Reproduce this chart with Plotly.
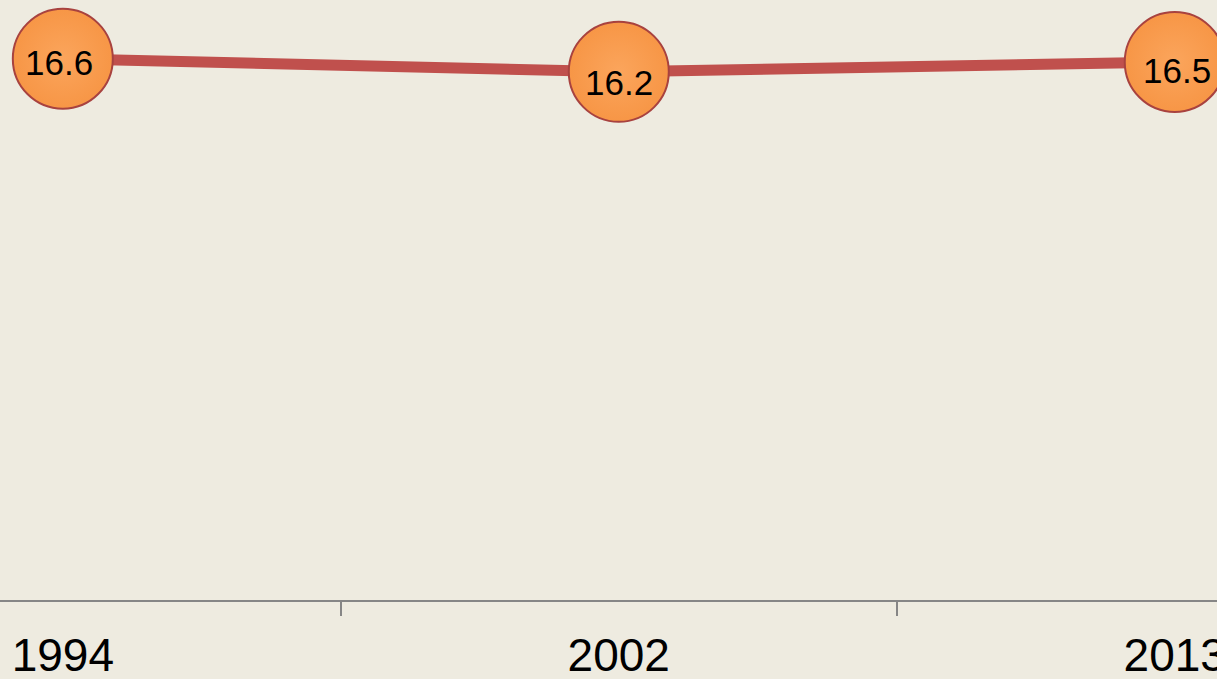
import plotly.graph_objects as go

years = ["1994", "2002", "2013"]
values = [16.6, 16.2, 16.5]
value_labels = ["16.6", "16.2", "16.5"]

# label offsets (pixels) relative to marker centre
label_dx = [-4, 0, 2]
label_dy = [-4, -11, -9]

BG = "#EEEBE0"
FONT = "Liberation Sans, Arial, sans-serif"

fig = go.Figure()
fig.add_trace(go.Scatter(
    x=years, y=values, mode="lines+markers",
    line=dict(color="#C0504D", width=11),
    marker=dict(size=100, color="#F79646",
                gradient=dict(type="radial", color="#FBA55C"),
                line=dict(color="#A8423F", width=2)),
    hoverinfo="skip", showlegend=False, cliponaxis=False,
))

for i, (v, t, dx, dy) in enumerate(zip(values, value_labels, label_dx, label_dy)):
    fig.add_annotation(x=i, y=v, xref="x", yref="y", text=t, showarrow=False,
                       xshift=dx, yshift=dy,
                       font=dict(family=FONT, size=35, color="#000000"))

fig.update_layout(
    width=1217, height=679,
    margin=dict(l=0, r=0, t=0, b=79, autoexpand=False),
    paper_bgcolor=BG, plot_bgcolor=BG,
    xaxis=dict(type="category", range=[-0.113, 2.076], tickson="boundaries",
               showgrid=False, zeroline=False, showline=True,
               linecolor="#868686", linewidth=2,
               ticks="outside", ticklen=14, tickwidth=1.5, tickcolor="#868686",
               ticklabelstandoff=14,
               tickfont=dict(family=FONT, size=46, color="#000000"),
               automargin=False, fixedrange=True),
    yaxis=dict(range=[0, 18.4], visible=False, showgrid=False, zeroline=False,
               fixedrange=True),
)

fig.write_html("out.html", config={"displayModeBar": False},
               post_script="document.body.style.margin='0';")
